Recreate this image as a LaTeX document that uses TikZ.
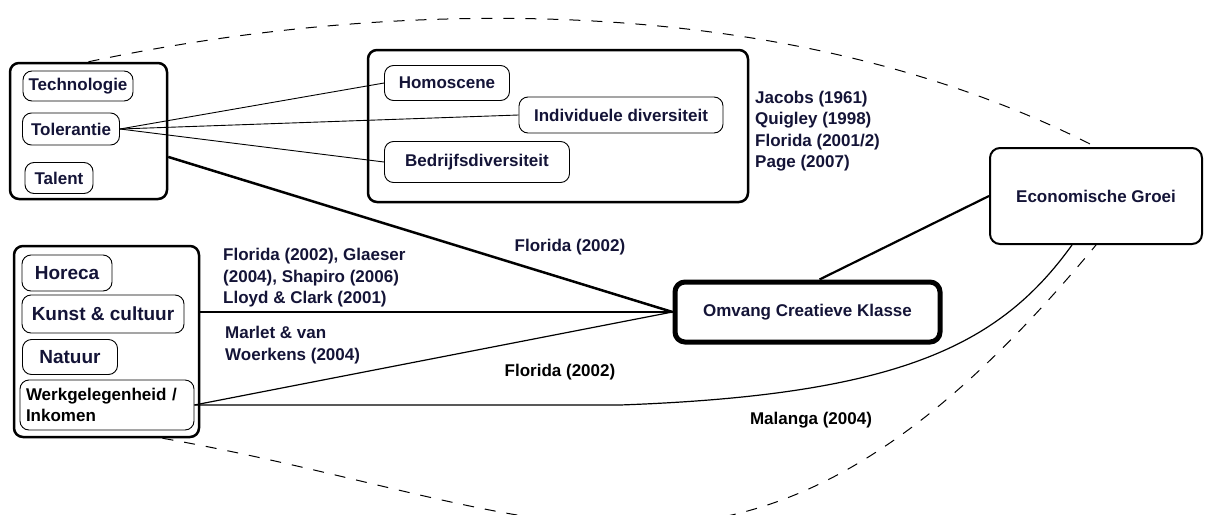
\documentclass[tikz,border=0pt]{standalone}
\usepackage{fontspec}
\setmainfont{Liberation Sans}
\usetikzlibrary{positioning}
\definecolor{inktxt}{RGB}{20,20,55}

\begin{document}
\begin{tikzpicture}[x=1pt,y=-1pt,
every node/.style={font=\fontsize{17}{21.5}\selectfont\bfseries,text=inktxt},
frame/.style={draw,line width=2.5pt,rounded corners=9pt,inner sep=0pt},
item/.style={draw,line width=0.9pt,rounded corners=9pt,inner sep=0pt},
bigitem/.style={item,font=\fontsize{19}{22}\selectfont\bfseries},
cite/.style={align=left,inner sep=0pt,anchor=west},
dashline/.style={line width=1pt,dash pattern=on 11pt off 11pt}]
\useasboundingbox (0,0) rectangle (1206,514);
\clip (0,0) rectangle (1206,514);
%groups
\path (88.5,131) node(tl)[frame,minimum width=157,minimum height=136]{}
(558,126) node(tm)[frame,minimum width=380,minimum height=152]{}
(106.5,341.5) node(ll)[frame,minimum width=185,minimum height=191]{}
(1096,196) node(eco)[draw,line width=2pt,rounded corners=10pt,minimum width=212,minimum height=96]{Economische Groei}
(807.5,312) node(omvang)[draw,line width=5pt,rounded corners=10pt,minimum width=265,minimum height=60]{Omvang Creatieve Klasse};
%items
\path (78,86) node(tech)[item,minimum width=110,minimum height=30]{Technologie}
(71,129) node(tol)[item,minimum width=97,minimum height=32]{Tolerantie}
(59,178) node(tal)[item,minimum width=68,minimum height=31]{Talent}
(447,83) node(homo)[item,minimum width=125,minimum height=35]{Homoscene}
(621,115) node(indiv)[item,minimum width=204,minimum height=36]{Individuele diversiteit}
(477,162) node(bedr)[item,minimum width=185,minimum height=41]{Bedrijfsdiversiteit}
(67,273) node(horeca)[bigitem,minimum width=90,minimum height=36]{Horeca}
(103,314) node(kunst)[bigitem,minimum width=162,minimum height=38]{Kunst \& cultuur}
(70,357) node(natuur)[bigitem,minimum width=95,minimum height=35]{Natuur}
(107,405) node(werk)[item,align=left,text=black,inner xsep=6pt,text width=162,minimum height=50,font=\fontsize{17}{21}\selectfont\bfseries]{Werkgelegenheid /\\ Inkomen};
%labels
\path (755,131) node(jacobs)[cite]{Jacobs (1961)\\ Quigley (1998)\\ Florida (2001/2)\\ Page (2007)}
(223,278) node(glaeser)[cite]{Florida (2002), Glaeser\\ (2004), Shapiro (2006)\\ Lloyd \& Clark (2001)}
(225,345) node(marlet)[cite]{Marlet \& van\\ Woerkens (2004)}
(570,247) node(florA)[inner sep=0pt]{Florida (2002)}
(560,372) node(florB)[inner sep=0pt,text=black]{Florida (2002)}
(811,420) node(malanga)[inner sep=0pt,text=black]{Malanga (2004)};
%connectors
\draw[line width=0.9pt](tol.east)--(homo.west);
\draw[line width=0.9pt](tol.east)--(indiv.west);
\draw[line width=0.9pt](tol.east)--(bedr.west);
\draw[line width=2.5pt](tl.-18)--(omvang.west);
\draw[line width=2pt](ll.east |- omvang.west)--(omvang.west);
\draw[line width=1.2pt](werk.east)--(omvang.west);
\draw[line width=1.2pt](werk.east)--(620,405) .. controls (900,395) and (1000,345) .. ([xshift=-24pt]eco.south);
\draw[line width=2.2pt]([xshift=12pt]omvang.north)--(eco.west);
\draw[dashline](tl.north) .. controls (380,0) and (780,-15) .. (eco.north);
\draw[dashline]([xshift=56pt]ll.south) .. controls (563,509) and (748,665) .. (eco.south);
\end{tikzpicture}
\end{document}
